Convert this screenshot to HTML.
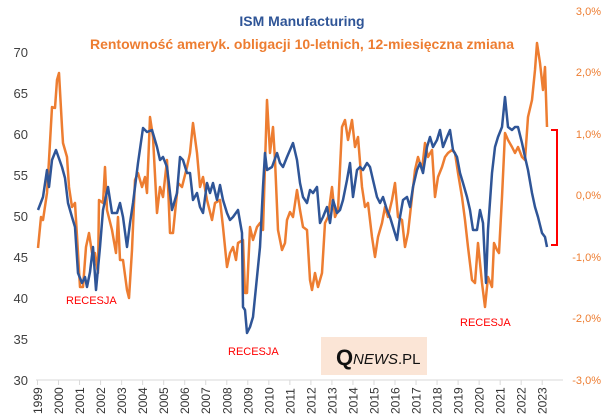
<!DOCTYPE html><html><head><style>body{margin:0;background:#fff}svg{display:block}text{font-family:"Liberation Sans",sans-serif}</style></head><body>
<svg width="604" height="416" viewBox="0 0 604 416">
<text x="302" y="26" text-anchor="middle" font-size="14" font-weight="bold" fill="#2f5597">ISM Manufacturing</text>
<text x="302" y="49" text-anchor="middle" font-size="14" font-weight="bold" fill="#ed7d31">Rentowność ameryk. obligacji 10-letnich, 12-miesięczna zmiana</text>
<g font-size="13" fill="#404040" text-anchor="end">
<text x="28" y="57">70</text><text x="28" y="98">65</text><text x="28" y="139">60</text><text x="28" y="180">55</text><text x="28" y="221">50</text><text x="28" y="262">45</text><text x="28" y="303">40</text><text x="28" y="344">35</text><text x="28" y="385">30</text></g>
<g font-size="11" fill="#ed7d31" text-anchor="end">
<text x="601" y="15">3,0%</text><text x="601" y="76">2,0%</text><text x="601" y="138">1,0%</text><text x="601" y="199">0,0%</text><text x="601" y="261">-1,0%</text><text x="601" y="322">-2,0%</text><text x="601" y="384">-3,0%</text></g>
<line x1="36" y1="380" x2="563" y2="380" stroke="#d9d9d9"/>
<g stroke="#d9d9d9" id="tk"></g>
<g font-size="12" fill="#333" id="yl"></g>
<rect x="321" y="337" width="106" height="38" fill="#fbe5d6"/>
<text x="336" y="365" font-family="Liberation Serif" font-size="22" font-weight="bold" fill="#111">Q</text>
<text x="353" y="364" font-size="15" fill="#111"><tspan font-style="italic">NEWS</tspan>.PL</text>
<g font-size="11" fill="#ff0000"><text x="66" y="304">RECESJA</text><text x="228" y="355">RECESJA</text><text x="460" y="326">RECESJA</text></g>
<path d="M551 130H557V245H551" fill="none" stroke="#ff0000" stroke-width="2"/>
<polyline fill="none" stroke="#ed7d31" stroke-width="2.5" stroke-linejoin="round" points="38,248 41,217 43,220 47,193 49,160 52,107 55,108 57,80 59,73 62,127 63,143 67,157 69,187 72,207 75,203 78,253 80,287 83,287 86,247 89,233 92,253 95,253 98,273 99,200 103,203 105,167 107,210 112,230 116,253 118,217 120,260 123,260 127,290 129,298 132,250 135,180 138,173 142,187 145,177 147,193 150,117 153,137 157,213 160,187 163,197 167,160 170,233 173,233 178,183 182,187 187,167 190,153 193,123 197,153 200,187 203,177 207,200 212,220 215,203 220,200 223,227 227,267 230,253 233,247 236,260 238,243 243,240 245,293 247,293 250,227 253,240 257,227 260,223 263,230 267,100 270,153 273,127 275,160 278,230 282,250 285,243 287,220 290,212 293,217 297,190 300,210 303,227 307,230 310,280 312,290 315,273 318,287 322,273 325,223 328,217 332,187 335,217 338,210 342,127 345,120 348,140 352,120 355,147 358,137 362,187 365,207 368,203 372,237 375,257 378,237 382,223 385,207 388,217 392,200 395,183 398,217 402,220 405,247 408,233 412,197 415,170 418,157 422,170 425,143 428,157 432,150 435,197 438,177 442,167 445,157 448,153 452,150 455,153 458,173 462,197 465,220 468,247 472,280 475,283 478,243 482,283 485,307 488,277 492,287 494,243 497,250 499,253 502,197 505,133 508,140 512,147 515,153 518,147 522,157 525,160 528,117 532,100 535,70 537,43 540,63 543,90 545,67 547,127"/>
<polyline fill="none" stroke="#2f5597" stroke-width="2.5" stroke-linejoin="round" points="38,210 43,197 47,170 49,187 52,160 56,150 62,167 65,178 68,203 72,217 75,227 78,273 82,283 85,277 87,287 90,272 93,247 96,290 100,247 103,210 108,187 112,213 117,213 120,203 123,217 127,247 130,223 133,203 138,163 143,128 147,132 152,130 157,147 160,160 163,157 167,167 172,210 177,193 180,157 183,160 187,173 190,173 193,200 197,193 200,207 203,213 207,183 210,193 213,183 217,200 220,185 223,200 227,213 230,220 233,217 238,210 242,233 243,307 245,310 247,333 250,327 253,317 257,277 260,247 263,187 265,153 267,170 272,167 277,153 280,163 283,167 287,157 290,150 293,143 297,160 300,183 303,197 307,203 310,190 313,193 317,187 320,223 323,217 327,207 330,223 333,200 337,213 340,210 343,200 347,180 350,163 353,197 357,170 360,167 363,170 367,163 370,167 373,180 377,197 380,203 383,197 387,210 390,217 393,227 397,240 400,217 403,200 407,197 410,207 413,187 417,170 420,163 423,173 427,147 430,137 433,147 437,140 440,130 443,147 447,137 450,130 453,150 457,157 460,173 463,183 467,197 470,210 473,230 477,230 480,210 483,223 486,283 488,230 492,173 495,147 498,137 502,127 505,97 508,127 512,130 515,127 518,127 522,143 525,157 528,170 532,193 535,207 538,217 542,233 545,237 547,247"/>
<script>
var tk=document.getElementById('tk'),yl=document.getElementById('yl'),ns='http://www.w3.org/2000/svg';
for(var i=0;i<25;i++){var x=37.5+i*21.03;var l=document.createElementNS(ns,'line');l.setAttribute('x1',x);l.setAttribute('x2',x);l.setAttribute('y1',380);l.setAttribute('y2',385);tk.appendChild(l);
var t=document.createElementNS(ns,'text');t.setAttribute('transform','translate('+(x+4.5)+',414) rotate(-90)');t.textContent=1999+i;yl.appendChild(t);}
</script>
</svg></body></html>
